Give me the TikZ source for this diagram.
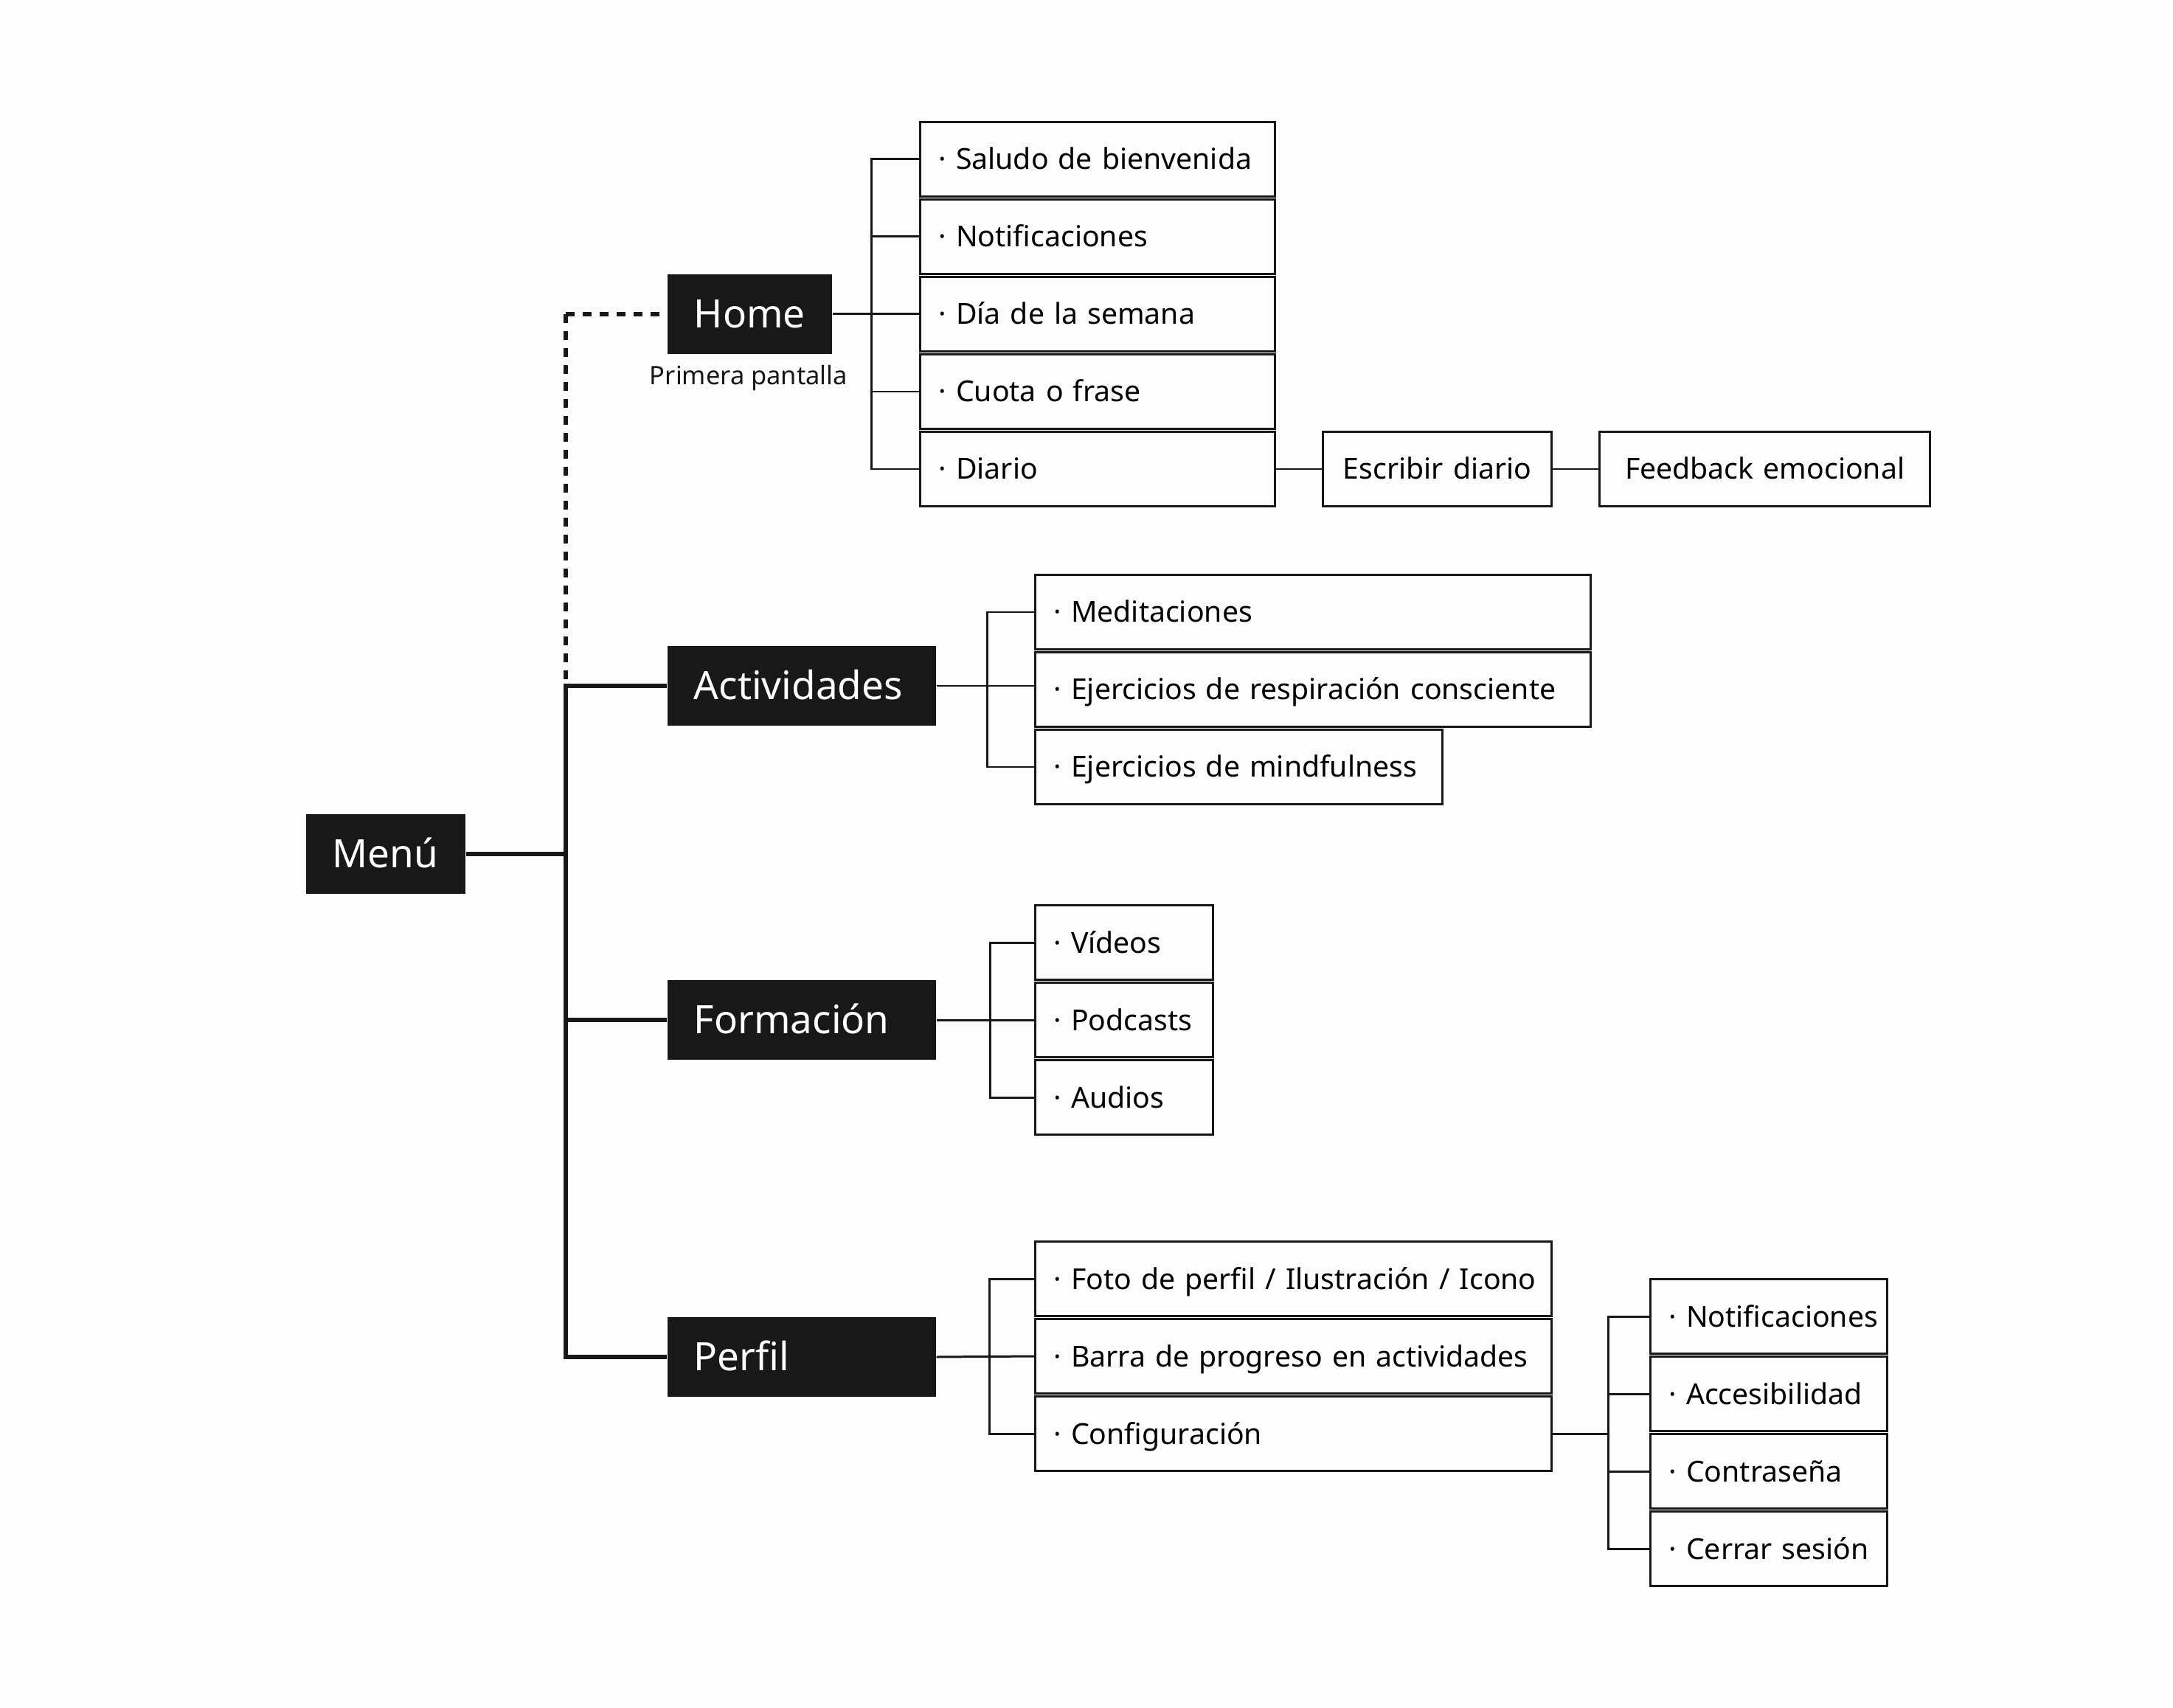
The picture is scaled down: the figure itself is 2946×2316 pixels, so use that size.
\documentclass[tikz,border=0pt]{standalone}
\usepackage{fontspec}
\setmainfont{Noto Sans}
\definecolor{bgc}{RGB}{253,253,253}
\definecolor{ink}{RGB}{24,24,24}
\begin{document}
\begin{tikzpicture}[x=0.01cm,y=-0.01cm,
  hdr/.style={fill=ink, text=white, anchor=west, inner xsep=0.36cm, inner ysep=0pt,
    minimum height=1.07cm, align=left, font=\fontsize{15.08pt}{18pt}\selectfont,
    text height=10.77pt, text depth=0pt},
  item/.style={draw=ink, line width=0.85pt, fill=bgc, anchor=west, inner xsep=0.25cm,
    inner ysep=0pt, minimum height=1.0cm, align=left,
    font=\fontsize{11.15pt}{14pt}\selectfont, text height=7.96pt, text depth=0pt},
  citem/.style={item, align=center},
  trunk/.style={draw=ink, line width=1.7pt},
  brk/.style={draw=ink, line width=0.85pt},
  dashy/.style={draw=ink, line width=1.7pt, dash pattern=on 0.12cm off 0.11cm},
  note/.style={font=\fontsize{9.8pt}{11pt}\selectfont, text=ink, inner sep=0pt, anchor=base}
]
\fill[bgc] (0,0) rectangle (2946,2316);
\useasboundingbox (0,0) rectangle (2946,2316);

% headers
\node[hdr, text width=1.44cm] (menu) at (414,1158) {Menú};
\node[hdr, text width=1.51cm] (home) at (904,426) {Home};
\node[note] (prim) at (1015,522) {Primera pantalla};
\node[hdr, text width=2.92cm] (act) at (904,930) {Actividades};
\node[hdr, text width=2.92cm] (form) at (904,1383) {Formación};
\node[hdr, text width=2.92cm] (perf) at (904,1840) {Perfil};

% home items
\node[item, text width=4.31cm] (h1) at (1246,216) {\mbox{· Saludo de bienvenida}};
\node[item, text width=4.31cm] (h2) at (1246,321) {\mbox{· Notificaciones}};
\node[item, text width=4.31cm] (h3) at (1246,426) {\mbox{· Día de la semana}};
\node[item, text width=4.31cm] (h4) at (1246,531) {\mbox{· Cuota o frase}};
\node[item, text width=4.31cm] (h5) at (1246,636) {\mbox{· Diario}};
\node[citem, text width=2.60cm] (esc) at (1792,636) {\mbox{Escribir diario}};
\node[citem, text width=3.98cm] (feed) at (2167,636) {\mbox{Feedback emocional}};

% actividades items
\node[item, text width=7.03cm] (a1) at (1402,830) {\mbox{· Meditaciones}};
\node[item, text width=7.03cm] (a2) at (1402,935) {\mbox{· Ejercicios de respiración consciente}};
\node[item, text width=5.02cm] (a3) at (1402,1040) {\mbox{· Ejercicios de mindfulness}};

% formacion items
\node[item, text width=1.91cm] (f1) at (1402,1278) {\mbox{· Vídeos}};
\node[item, text width=1.91cm] (f2) at (1402,1383) {\mbox{· Podcasts}};
\node[item, text width=1.91cm] (f3) at (1402,1488) {\mbox{· Audios}};

% perfil items
\node[item, text width=6.50cm] (p1) at (1402,1734) {\mbox{· Foto de perfil / Ilustración / Icono}};
\node[item, text width=6.50cm] (p2) at (1402,1839) {\mbox{· Barra de progreso en actividades}};
\node[item, text width=6.50cm] (p3) at (1402,1944) {\mbox{· Configuración}};

% configuracion items
\node[item, text width=2.71cm] (s1) at (2236,1785) {\mbox{· Notificaciones}};
\node[item, text width=2.71cm] (s2) at (2236,1890) {\mbox{· Accesibilidad}};
\node[item, text width=2.71cm] (s3) at (2236,1995) {\mbox{· Contraseña}};
\node[item, text width=2.71cm] (s4) at (2236,2100) {\mbox{· Cerrar sesión}};

% trunk
\coordinate (tH) at (767,426);
\coordinate (tA) at (767,930);
\draw[trunk] (act.west) -- (tA) -- (perf.west -| tA) -- (perf.west);
\draw[trunk] (menu.east) -- (menu.east -| tA);
\draw[trunk] (form.west -| tA) -- (form.west);
\draw[dashy] (tH) -- (tA);
\draw[dashy] (tH) -- (home.west);

% home bracket
\coordinate (hb) at (1181,0);
\draw[brk] (home.east) -- (h3.west);
\draw[brk] (h1.west) -- (h1.west -| hb) -- (h5.west -| hb) -- (h5.west);
\draw[brk] (h2.west -| hb) -- (h2.west);
\draw[brk] (h4.west -| hb) -- (h4.west);
\draw[brk] (h5.east) -- (esc.west);
\draw[brk] (esc.east) -- (feed.west);

% actividades bracket
\coordinate (ab) at (1338,0);
\draw[brk] (act.east) -- (act.east -| a2.west);
\draw[brk] (a1.west) -- (a1.west -| ab) -- (a3.west -| ab) -- (a3.west);

% formacion bracket
\coordinate (fb) at (1342,0);
\draw[brk] (form.east) -- (f2.west);
\draw[brk] (f1.west) -- (f1.west -| fb) -- (f3.west -| fb) -- (f3.west);

% perfil bracket
\coordinate (pb) at (1341,0);
\draw[brk] (perf.east) -- (p2.west);
\draw[brk] (p1.west) -- (p1.west -| pb) -- (p3.west -| pb) -- (p3.west);

% configuracion bracket
\coordinate (sb) at (2180,0);
\draw[brk] (p3.east) -- (p3.east -| sb);
\draw[brk] (s1.west) -- (s1.west -| sb) -- (s4.west -| sb) -- (s4.west);
\draw[brk] (s2.west -| sb) -- (s2.west);
\draw[brk] (s3.west -| sb) -- (s3.west);
\end{tikzpicture}
\end{document}
